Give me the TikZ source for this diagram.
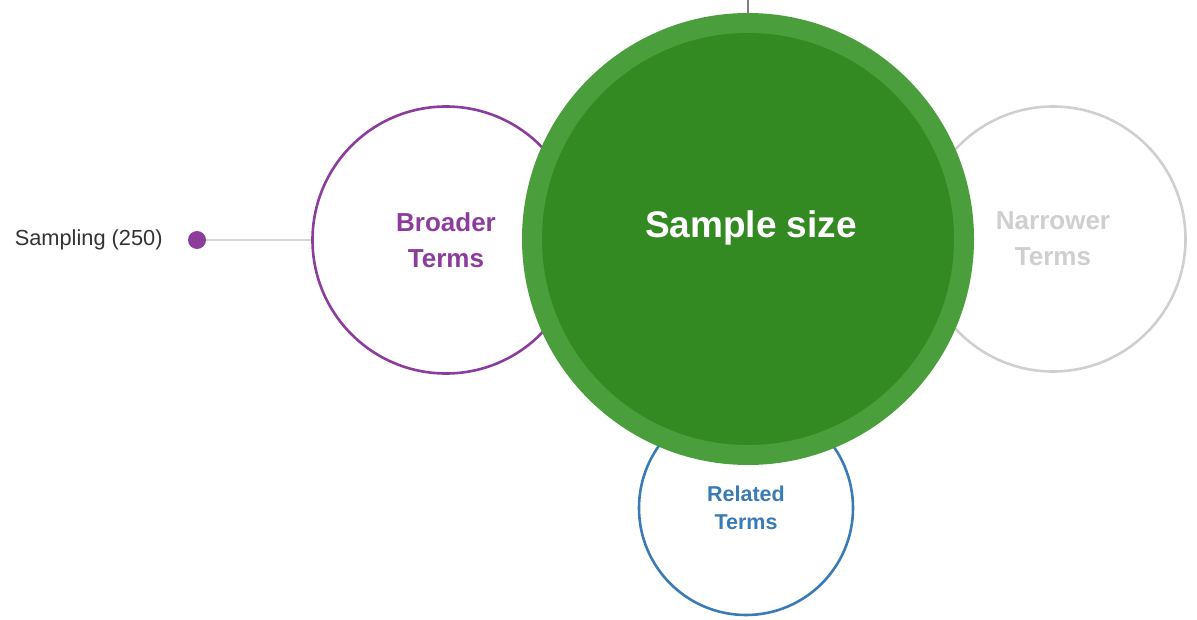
\documentclass[tikz,border=0pt]{standalone}
\usepackage{fontspec}
\setmainfont{Liberation Sans}
\usetikzlibrary{positioning}

\definecolor{outergreen}{HTML}{4A9E3C}
\definecolor{innergreen}{HTML}{338A22}
\definecolor{broaderpurple}{HTML}{8C3D9C}
\definecolor{relatedblue}{HTML}{3A7BB4}
\definecolor{narrowergray}{HTML}{CFCFCF}
\definecolor{linkgray}{HTML}{D6D6D6}

\begin{document}
\begin{tikzpicture}[x=1pt, y=-1pt,
  term/.style = {draw, circle, line width=2.6pt, inner sep=0pt, align=center, font=\bfseries\fontsize{26}{36}\selectfont},
  disc/.style = {circle, inner sep=0pt}]
  \useasboundingbox (0,0) rectangle (1197,620);

  \node[term, draw=broaderpurple, text=broaderpurple, minimum size=267pt] (broader) at (446,240) {Broader\\Terms};
  \node[term, draw=narrowergray, text=narrowergray, minimum size=265pt] (narrower) at (1053,239) {Narrower\\Terms};
  \node[term, draw=relatedblue, text=relatedblue, minimum size=214pt, font=\bfseries\fontsize{21.5}{28}\selectfont] (related) at (746,508) {Related\\Terms};

  \node[disc, fill=outergreen, minimum size=452pt] (main) at (748,239) {};
  \node[disc, fill=innergreen, minimum size=412pt] (core) at (main) {};
  \node[text=white, font=\bfseries\fontsize{37}{44}\selectfont] (title) at (751,228) {Sample size};

  \coordinate (top) at (748,0);
  \draw[gray, line width=1.2pt] (main.north) -- (top);

  \node[disc, fill=broaderpurple, minimum size=18pt] (dot) at (197,240) {};
  \node[inner sep=0pt, left=25pt of dot, text=black!80, font=\fontsize{21.8}{25}\selectfont] (sampling) {Sampling (250)};
  \draw[linkgray, line width=1.2pt] (dot) -- (broader);
\end{tikzpicture}
\end{document}
